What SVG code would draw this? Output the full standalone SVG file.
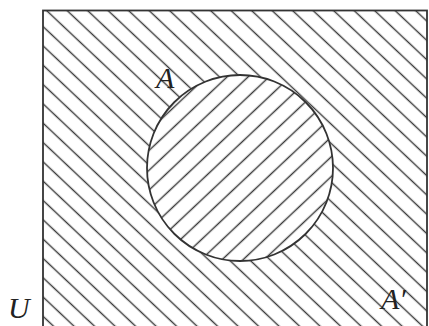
<svg xmlns="http://www.w3.org/2000/svg" width="429" height="326" viewBox="0 0 429 326">
  <style>
    .hatch { stroke: #3a3a3a; stroke-width: 1.3; fill: none; }
    .edge { stroke: #333; stroke-width: 1.8; }
    .label { font-family: "Liberation Serif", "Times New Roman", serif; font-style: italic; font-size: 30px; fill: #222; }
  </style>
  <defs>
    <pattern id="hatchOut" patternUnits="userSpaceOnUse" width="200" height="14.06" patternTransform="translate(46,10) rotate(43.3) translate(0,-7.03)">
      <path class="hatch" d="M-10,7.03 H210"/>
    </pattern>
    <pattern id="hatchIn" patternUnits="userSpaceOnUse" width="200" height="14.4" patternTransform="translate(240.7,163) rotate(-43.3) translate(0,-7.2)">
      <path class="hatch" d="M-10,7.2 H210"/>
    </pattern>
    <mask id="outsideA">
      <rect x="0" y="0" width="429" height="326" fill="#fff"/>
      <circle cx="240" cy="168" r="93" fill="#000"/>
    </mask>
  </defs>
  <rect x="0" y="0" width="429" height="326" fill="#fff"/>
  <g id="universe-U">
    <rect x="43" y="10.5" width="384" height="330" fill="url(#hatchOut)" mask="url(#outsideA)"/>
    <rect class="edge" x="43" y="10.5" width="384" height="330" fill="none"/>
    <text class="label" x="8" y="318">U</text>
  </g>
  <g id="set-A">
    <circle cx="240" cy="168" r="93" fill="url(#hatchIn)"/>
    <circle class="edge" cx="240" cy="168" r="93" fill="none" stroke-width="1.6"/>
    <text class="label" x="156" y="88">A</text>
  </g>
  <g id="complement-A">
    <text class="label" x="381" y="309">A′</text>
  </g>
  <g id="connectors"></g>
</svg>
